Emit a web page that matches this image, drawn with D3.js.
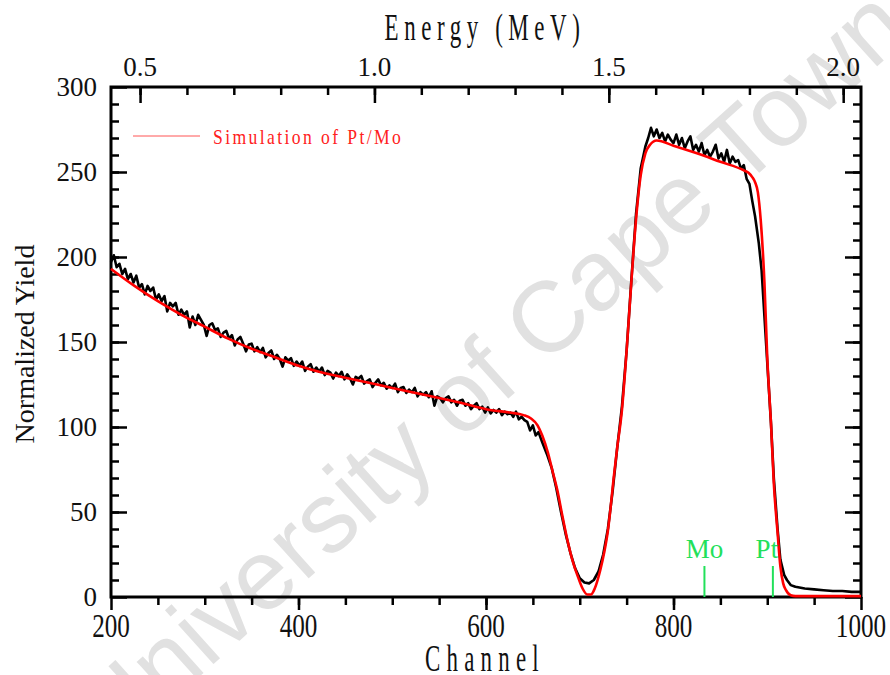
<!DOCTYPE html>
<html>
<head>
<meta charset="utf-8">
<script src="https://cdn.jsdelivr.net/npm/d3@7"></script>
<style>
  body { margin: 0; background: #fff; }
  svg text { font-family: "Liberation Serif", "Times New Roman", serif; }
</style>
</head>
<body>
<div id="chart"></div>
<script>
/*------------------ données ------------------*/

// spectre mesuré : [canal, rendement]
var mesure = [
  [200,197],[203,201],[206,194],[209,196],[212,190],[215,193],[218,187],[221,190],[224,185],[227,189],
  [230,182],[233,184],[236,178],[239,183],[242,180],[245,182],[248,175],[251,178],[254,174],[257,177],
  [260,168],[263,173],[266,171],[269,173],[272,166],[275,169],[278,166],[281,168],[284,158.5],[287,165],
  [290,160],[293,166],[296,163],[299,160],[302,153.5],[305,160],[308,161],[311,157],[314,158],[317,153],
  [320,155.5],[323,156.5],[326,152],[329,154],[332,148],[335,151.5],[338,153],[341,149],[344,144.5],[347,148.5],
  [350,149],[353,144.5],[356,147],[359,144],[362,146.5],[365,141],[368,143.5],[371,145],[374,140],[377,142.5],
  [380,140],[383,135.5],[386,141],[389,139],[392,140.5],[395,136],[398,138.5],[401,136],[404,138.5],[407,133],
  [410,135.5],[413,137],[416,132.5],[419,135],[422,132.5],[425,135],[428,130.5],[431,133],[434,132],[437,128.5],
  [440,132],[443,130],[446,132.5],[449,128],[452,131],[455,128.5],[458,125],[461,129.5],[464,128.5],[467,130],
  [470,125.5],[473,127],[476,128],[479,123.5],[482,126],[485,128],[488,124.5],[491,126],[494,122.5],[497,124.5],
  [500,123],[503,125.5],[506,120.5],[509,123],[512,123.5],[515,120],[518,122],[521,120.5],[524,123],[527,118],
  [530,120.5],[533,119],[536,120.5],[539,117.5],[542,121],[545,112.5],[548,118],[551,117],[554,114.5],[557,117],
  [560,118],[563,114.5],[566,116],[569,112.5],[572,115.5],[575,116],[578,112.5],[581,114],[584,110.5],[587,112.5],
  [590,114],[593,110.5],[596,112],[599,108.5],[602,111.5],[605,108],[608,110],[611,108.5],[614,110.5],[617,107],
  [620,109],[623,107.5],[626,108.5],[629,106],[632,109],[635,104.5],[638,106],[641,104],[644,103],[647,98],
  [650,101],[653,95],[656,97],[660,91],[665,84],[670,76],[675,64],[680,50],[685,37],[690,26],
  [695,17],[700,11],[705,8.5],[710,8],[715,10],[720,15],[725,25],[730,40],[735,62],[740,88],
  [745,112],[750,145],[755,186],[760,225],[765,252],[770,265],[773,270],[776,276],[779,271],[782,275],
  [785,270],[788,273],[791,268],[794,272],[797,269],[800,267],[803,272],[806,266],[809,270],[812,264],
  [815,268],[818,271],[821,263],[824,266],[827,262],[830,267],[833,260],[836,263],[839,259],[842,262],
  [845,266],[848,258],[851,261],[854,256],[857,263],[860,255],[863,259],[866,256],[869,257],[872,252],
  [875,254],[878,246],[881,243],[884,233],[887,224],[891,208],[894,192],[897,165],[900,138],[904,102],
  [907,70],[911,40],[914,22],[918,13],[921,10],[925,7],[930,6],[940,5],[950,4.5],[960,4],
  [970,3.5],[980,3.5],[990,3],[1000,3]
];

// simulation Pt/Mo : [canal, rendement]
var simulation = [
  [200,193],[225,183],[250,174],[275,166],[300,159],[325,152],[350,146],[375,141],[400,136],[425,132],
  [450,129],[475,126],[500,123],[525,120],[550,117],[575,114],[600,110.5],[625,108.5],[640,107],[648,105],
  [655,101],[660,95],[666,85],[671,74],[676,63],[681,49],[687,33],[692,22],[698,12],[703,5],
  [708,1.5],[712,1.5],[716,5],[722,16],[726,26],[730,39],[733,53],[736,69],[740,88],[745,110],
  [750,145],[755,185],[760,222],[765,248],[770,261],[775,266],[782,268.5],[800,265.5],[825,261],[850,256],
  [875,251],[880,249.5],[884,247],[887,244],[890,238],[893,222],[897,185],[900,141],[904,102],[907,67],
  [911,38],[914,18],[917,8],[920,4],[925,1],[930,0.5],[960,0.5],[1000,0.5]
];

var marqueurs = [{nom: "Mo", canal: 833}, {nom: "Pt", canal: 906}];

var ticksCanal = [200, 400, 600, 800, 1000];
var ticksYield = [0, 50, 100, 150, 200, 250, 300];
var ticksEnergie = [0.5, 1.0, 1.5, 2.0];

/*------------------ dessin ------------------*/

var width = 890, height = 675;
var margin = {top: 87, right: 29, bottom: 78, left: 111};

var svg = d3.select("#chart").append("svg")
    .attr("width", width)
    .attr("height", height);

// filigrane
svg.append("text")
    .attr("transform", "translate(490,368) rotate(-42)")
    .attr("text-anchor", "middle")
    .attr("dy", "0.35em")
    .style("font-family", "'Liberation Sans', Arial, sans-serif")
    .style("font-size", "100px")
    .style("fill", "#e1e1e1")
    .text("University of Cape Town");

var xScale = d3.scaleLinear().domain([200, 1000]).range([margin.left, width - margin.right]);
var yScale = d3.scaleLinear().domain([0, 300]).range([height - margin.bottom, margin.top]);
var eScale = d3.scaleLinear().domain([0.438, 2.038]).range([margin.left, width - margin.right]);

var x0 = margin.left, x1 = width - margin.right, y0 = height - margin.bottom, y1 = margin.top;

function styleAxis(g) {
    g.select(".domain").remove();
    g.selectAll(".tick line").attr("stroke", "#000").attr("stroke-width", 2.5);
    g.selectAll(".tick text").remove();
}

// petites graduations
svg.append("g").attr("transform", "translate(0," + y0 + ")")
    .call(d3.axisBottom(xScale).tickValues(d3.range(250, 1000, 50)).tickSize(8)).call(styleAxis);
svg.append("g").attr("transform", "translate(" + x0 + ",0)")
    .call(d3.axisLeft(yScale).tickValues(d3.range(10, 300, 10)).tickSize(-8)).call(styleAxis);
svg.append("g").attr("transform", "translate(" + x1 + ",0)")
    .call(d3.axisRight(yScale).tickValues(d3.range(10, 300, 10)).tickSize(-8)).call(styleAxis);
svg.append("g").attr("transform", "translate(0," + y1 + ")")
    .call(d3.axisTop(eScale).tickValues(d3.range(0.5, 2.05, 0.1)).tickSize(-8)).call(styleAxis);

// grandes graduations
svg.append("g").attr("transform", "translate(0," + y0 + ")")
    .call(d3.axisBottom(xScale).tickValues(ticksCanal).tickSize(13)).call(styleAxis);
svg.append("g").attr("transform", "translate(" + x0 + ",0)")
    .call(d3.axisLeft(yScale).tickValues(ticksYield).tickSize(-16)).call(styleAxis);
svg.append("g").attr("transform", "translate(" + x1 + ",0)")
    .call(d3.axisRight(yScale).tickValues(ticksYield).tickSize(-16)).call(styleAxis);
svg.append("g").attr("transform", "translate(0," + y1 + ")")
    .call(d3.axisTop(eScale).tickValues(ticksEnergie).tickSize(-16)).call(styleAxis);

// cadre
svg.append("rect")
    .attr("x", x0).attr("y", y1)
    .attr("width", x1 - x0).attr("height", y0 - y1)
    .attr("fill", "none").attr("stroke", "#000").attr("stroke-width", 3);

// étiquettes
svg.selectAll(".lab-y").data(ticksYield).enter().append("text")
    .attr("x", 97).attr("y", d => yScale(d) + 9)
    .attr("text-anchor", "end")
    .style("font-size", "27px").style("fill", "#111")
    .text(d => d);

svg.selectAll(".lab-x").data(ticksCanal).enter().append("text")
    .attr("transform", d => "translate(" + xScale(d) + ",637) scale(0.74,1)")
    .attr("text-anchor", "middle")
    .style("font-size", "34px").style("fill", "#111")
    .text(d => d);

svg.selectAll(".lab-e").data(ticksEnergie).enter().append("text")
    .attr("x", d => eScale(d)).attr("y", 76)
    .attr("text-anchor", "middle")
    .style("font-size", "27px").style("fill", "#111")
    .text(d => d.toFixed(1));

svg.append("text")
    .attr("transform", "translate(485,671) scale(0.62,1)")
    .attr("text-anchor", "middle")
    .style("font-size", "37px").style("letter-spacing", "10px").style("fill", "#111")
    .text("Channel");

svg.append("text")
    .attr("transform", "translate(485,40) scale(0.62,1)")
    .attr("text-anchor", "middle")
    .style("font-size", "37px").style("letter-spacing", "9px").style("fill", "#111")
    .text("Energy (MeV)");

svg.append("text")
    .attr("transform", "translate(34,344) rotate(-90)")
    .attr("text-anchor", "middle")
    .style("font-size", "28px").style("fill", "#111")
    .text("Normalized Yield");

// courbes
var line = d3.line().x(d => xScale(d[0])).y(d => yScale(d[1]));

svg.append("path")
    .datum(mesure)
    .attr("d", line)
    .attr("fill", "none").attr("stroke", "#000").attr("stroke-width", 2.6)
    .attr("stroke-linejoin", "round");

svg.append("path")
    .datum(simulation)
    .attr("d", line.curve(d3.curveMonotoneX))
    .attr("fill", "none").attr("stroke", "#ff0000").attr("stroke-width", 2.6);

// marqueurs Mo / Pt
var g = svg.selectAll(".marq").data(marqueurs).enter().append("g");
g.append("line")
    .attr("x1", d => xScale(d.canal)).attr("x2", d => xScale(d.canal))
    .attr("y1", y0 - 31).attr("y2", y0)
    .attr("stroke", "#22e05a").attr("stroke-width", 2);
g.append("text")
    .attr("x", d => xScale(d.canal) - (d.nom === "Pt" ? 6 : 0)).attr("y", 558)
    .attr("text-anchor", "middle")
    .style("font-size", "27px").style("fill", "#22e05a")
    .text(d => d.nom);

// légende
svg.append("line")
    .attr("x1", 133).attr("x2", 200).attr("y1", 136).attr("y2", 136)
    .attr("stroke", "#ff5555").attr("stroke-width", 1);
svg.append("text")
    .attr("transform", "translate(213,144) scale(0.8,1)")
    .style("font-size", "22px").style("letter-spacing", "3px").style("fill", "#ff2020")
    .text("Simulation of Pt/Mo");
</script>
</body>
</html>
